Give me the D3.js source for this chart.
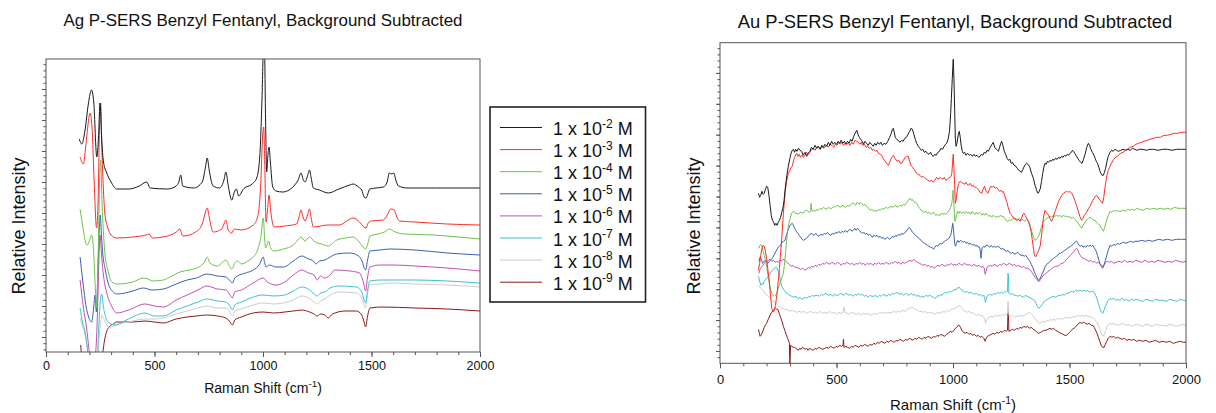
<!DOCTYPE html>
<html>
<head>
<meta charset="utf-8">
<script src="https://cdn.jsdelivr.net/npm/d3@7"></script>
<style>
  body { margin: 0; background: #fff; }
  text { font-family: Arial, "Liberation Sans", sans-serif; fill: #111; }
</style>
</head>
<body>
<svg id="chart" width="1216" height="413"></svg>
<script>
// concentration exponents shown in the legend (1 x 10^n M)
const exponents = ["-2", "-3", "-4", "-5", "-6", "-7", "-8", "-9"];
const seriesColors = ["#1a1a1a", "#ff2a2a", "#6cc24a", "#3a5fb0", "#c251b0", "#3fbfd2", "#cccccc", "#8b1a1a"];
const xTickLabels = [0, 500, 1000, 1500, 2000];

// Ag spectra: [Raman shift, relative intensity]
const agM2 = [[153,213],[165,208],[180,222],[195,248],[210,262],[220,250],[234,195],[242,215],[249,249],[256,215],[265,190],[280,179],[300,170],[326,163],[380,163],[430,166],[464,170],[480,164],[560,163],[600,166],[612,170],[621,177],[630,166],[680,164],[720,170],[735,185],[743,194],[752,182],[770,166],[800,164],[820,172],[829,180],[840,166],[856,152],[868,160],[877,163],[888,156],[910,163],[950,168],[971,174],[985,195],[995,250],[1002,300],[1007,300],[1012,230],[1017,180],[1022,195],[1028,205],[1034,190],[1045,165],[1060,161],[1091,160],[1120,162],[1150,168],[1162,172],[1175,179],[1186,172],[1194,170],[1205,176],[1214,182],[1222,174],[1232,164],[1260,162],[1301,159],[1350,163],[1400,167],[1416,168],[1440,165],[1455,162],[1466,155],[1475,154],[1483,158],[1492,163],[1520,164],[1555,165],[1572,170],[1582,179],[1594,178],[1603,179],[1612,172],[1625,166],[1665,164],[1800,164],[2000,164]];
const agM3 = [[157,195],[172,188],[185,210],[195,230],[203,239],[212,225],[222,170],[233,124],[240,150],[246,220],[252,249],[258,200],[265,160],[272,137],[285,124],[300,117],[326,114],[400,115],[460,117],[475,118],[490,114],[560,116],[600,120],[617,123],[630,116],[690,120],[720,128],[735,140],[743,144],[752,135],[770,120],[810,123],[820,128],[829,132],[840,122],[856,119],[868,123],[900,122],[955,127],[975,135],[990,170],[998,215],[1003,225],[1008,190],[1014,130],[1020,140],[1028,157],[1036,140],[1051,125],[1100,126],[1155,128],[1165,134],[1175,142],[1186,134],[1194,131],[1205,137],[1214,143],[1222,134],[1232,125],[1300,127],[1350,127],[1416,134],[1445,130],[1465,125],[1475,124],[1485,129],[1500,131],[1555,132],[1575,138],[1588,143],[1605,142],[1615,136],[1630,131],[1700,130],[1850,128],[2000,127]];
const agM4 = [[157,143],[170,125],[182,110],[190,107],[198,110],[210,117],[218,105],[226,70],[233,44],[240,90],[247,170],[252,192],[258,150],[265,118],[272,97],[285,82],[303,70],[329,68],[400,70],[449,74],[470,73],[490,71],[541,72],[580,76],[617,80],[660,82],[705,85],[730,90],[743,95],[755,89],[790,86],[815,90],[829,92],[845,86],[856,83],[870,89],[882,91],[900,88],[930,91],[955,95],[975,102],[990,115],[1001,134],[1008,112],[1012,104],[1020,108],[1026,111],[1035,104],[1050,101],[1094,103],[1140,107],[1160,112],[1175,115],[1194,111],[1213,115],[1240,110],[1270,108],[1301,106],[1340,112],[1380,114],[1416,115],[1440,111],[1458,106],[1473,103],[1485,110],[1493,116],[1530,118],[1560,120],[1585,123],[1600,121],[1650,118],[1785,117],[1900,115],[2000,113]];
const agM5 = [[157,95],[170,70],[185,45],[195,36],[210,30],[220,45],[226,57],[232,40],[240,90],[246,125],[250,137],[256,115],[263,95],[272,84],[285,70],[295,64],[329,58],[400,61],[449,64],[490,62],[541,63],[600,68],[650,72],[694,74],[740,78],[790,76],[829,75],[845,72],[859,69],[870,74],[882,76],[920,79],[955,82],[985,88],[1001,95],[1008,89],[1014,85],[1030,87],[1060,85],[1094,85],[1140,91],[1178,96],[1210,93],[1232,91],[1244,88],[1260,91],[1285,92],[1309,95],[1340,98],[1400,99],[1440,96],[1458,90],[1466,84],[1473,82],[1482,92],[1493,101],[1540,102],[1585,103],[1700,102],[1850,99],[2000,97]];
const agM6 = [[157,72],[172,45],[187,24],[197,5],[205,-10],[222,-10],[232,10],[240,60],[245,100],[249,117],[255,100],[263,80],[280,59],[300,47],[326,39],[380,42],[456,48],[500,46],[541,45],[600,52],[650,57],[700,62],[740,66],[790,63],[829,62],[845,58],[859,54],[870,60],[900,62],[955,69],[1001,74],[1020,70],[1060,67],[1100,70],[1140,77],[1178,82],[1210,79],[1235,77],[1250,72],[1265,76],[1285,74],[1309,77],[1330,82],[1400,81],[1445,79],[1462,70],[1473,61],[1482,75],[1493,85],[1540,87],[1600,87],[1700,86],[1850,84],[2000,81]];
const agM7 = [[157,44],[168,30],[180,20],[190,5],[198,-10],[235,-10],[242,20],[250,50],[257,58],[265,45],[280,32],[300,28],[318,27],[380,33],[456,39],[500,36],[541,36],[600,42],[650,46],[700,50],[740,53],[790,51],[829,50],[845,47],[859,42],[870,47],[900,50],[955,55],[1000,57],[1050,56],[1100,57],[1140,61],[1178,65],[1215,62],[1235,58],[1250,56],[1265,59],[1285,60],[1309,64],[1350,66],[1430,65],[1455,60],[1466,52],[1473,49],[1482,62],[1493,71],[1540,72],[1600,72],[1700,72],[1850,71],[2000,69]];
const agM8 = [[157,34],[168,26],[178,19],[190,5],[198,-10],[238,-10],[245,15],[252,30],[257,37],[265,34],[280,27],[295,24],[320,27],[380,30],[456,33],[500,33],[541,34],[600,38],[650,41],[700,44],[740,46],[790,44],[829,44],[845,41],[859,36],[870,41],[900,43],[955,47],[1000,49],[1050,48],[1094,49],[1140,52],[1178,56],[1210,54],[1235,50],[1250,48],[1265,51],[1285,53],[1309,57],[1350,60],[1430,59],[1455,54],[1466,47],[1473,44],[1482,58],[1493,67],[1540,68],[1600,69],[1700,68],[1850,67],[2000,65]];
const agM9 = [[160,7],[168,-10],[255,-10],[262,0],[270,12],[287,24],[310,28],[326,30],[400,30],[456,31],[500,30],[541,29],[600,33],[650,35],[694,36],[740,37],[790,36],[829,34],[845,31],[859,27],[870,32],[900,35],[955,39],[1000,40],[1050,39],[1100,40],[1140,41],[1178,42],[1215,40],[1235,38],[1250,36],[1265,38],[1285,37],[1301,34],[1320,38],[1380,41],[1430,41],[1455,37],[1466,30],[1473,25],[1482,36],[1493,44],[1550,45],[1700,44],[1850,43],[2000,41]];

// Au spectra: [Raman shift, relative intensity]
const auM2 = [[165,170],[170,166],[175,168],[180,172],[185,169],[190,170],[195,174],[200,177],[205,176],[210,168],[215,158],[220,148],[225,143],[230,141],[235,138],[240,140],[245,138],[250,141],[255,143],[260,146],[265,151],[270,155],[275,163],[280,175],[287,188],[293,197],[300,205],[305,210],[310,213],[315,214],[320,211],[325,214],[330,212],[337,215],[343,213],[350,212],[357,208],[365,211],[372,207],[379,210],[386,212],[392,216],[400,214],[408,218],[415,215],[422,217],[430,214],[437,218],[444,216],[450,219],[458,217],[465,221],[472,218],[479,222],[486,219],[493,221],[500,219],[507,222],[514,220],[520,223],[527,220],[534,222],[540,219],[547,222],[554,220],[560,224],[567,222],[574,227],[580,230],[587,233],[592,229],[598,226],[604,224],[610,222],[616,219],[622,222],[629,220],[636,218],[643,221],[650,219],[657,217],[664,220],[670,218],[677,221],[684,219],[690,221],[697,218],[704,220],[712,219],[720,222],[728,226],[735,230],[740,234],[744,235],[748,231],[752,226],[758,224],[765,223],[772,221],[780,223],[786,222],[793,225],[800,226],[807,229],[814,232],[820,235],[826,234],[832,229],[838,224],[844,220],[851,217],[858,215],[864,213],[870,214],[877,211],[884,212],[890,210],[897,209],[904,211],[910,208],[916,207],[922,209],[928,208],[935,211],[942,212],[948,215],[955,214],[962,217],[968,219],[973,220],[979,224],[985,232],[990,250],[993,265],[997,285],[1001,304],[1004,285],[1007,255],[1010,225],[1013,217],[1017,220],[1022,228],[1027,232],[1031,226],[1035,218],[1040,212],[1044,210],[1050,211],[1056,208],[1062,210],[1070,208],[1076,209],[1083,207],[1090,209],[1096,207],[1103,208],[1110,206],[1116,207],[1122,209],[1128,208],[1134,211],[1140,210],[1146,213],[1152,212],[1160,216],[1167,219],[1173,221],[1179,216],[1186,214],[1191,213],[1195,212],[1200,216],[1205,220],[1209,222],[1214,218],[1220,212],[1226,209],[1232,205],[1238,203],[1244,204],[1250,200],[1255,201],[1262,198],[1270,197],[1276,195],[1282,193],[1288,192],[1294,191],[1300,194],[1306,197],[1311,199],[1316,200],[1322,199],[1330,196],[1337,190],[1345,185],[1352,178],[1358,174],[1362,171],[1366,170],[1370,172],[1375,175],[1380,182],[1385,190],[1390,196],[1395,200],[1400,199],[1405,202],[1410,201],[1416,203],[1422,202],[1428,204],[1434,203],[1440,205],[1447,204],[1453,206],[1460,205],[1466,207],[1472,206],[1478,208],[1484,207],[1490,209],[1496,208],[1502,210],[1508,211],[1513,213],[1517,212],[1522,210],[1528,208],[1535,205],[1541,203],[1548,201],[1554,200],[1560,204],[1568,210],[1574,216],[1581,220],[1586,218],[1592,214],[1598,211],[1605,208],[1610,205],[1615,202],[1620,200],[1626,196],[1631,192],[1635,190],[1640,188],[1645,188],[1650,191],[1655,195],[1660,201],[1665,206],[1668,208],[1674,211],[1681,213],[1688,212],[1695,214],[1702,213],[1710,212],[1720,213],[1730,214],[1740,213],[1750,214],[1760,213],[1770,215],[1780,214],[1790,213],[1800,214],[1815,214],[1830,213],[1845,214],[1860,214],[1880,213],[1900,214],[1920,214],[1940,213],[1960,214],[1980,214],[2000,214]];
const auM3 = [[165,93],[170,100],[175,108],[180,115],[185,118],[190,117],[195,112],[200,105],[205,95],[210,85],[216,70],[222,55],[227,52],[232,52],[238,58],[245,70],[250,82],[255,95],[260,110],[265,125],[272,150],[280,172],[286,182],[293,190],[300,193],[305,196],[310,197],[316,203],[322,207],[329,210],[335,207],[340,209],[345,206],[352,208],[358,206],[365,208],[372,211],[380,209],[386,212],[392,213],[400,215],[408,213],[415,216],[422,217],[430,214],[437,217],[444,215],[450,216],[458,218],[466,216],[473,219],[480,218],[488,216],[495,219],[502,218],[510,221],[516,219],[523,221],[530,218],[537,220],[544,219],[550,220],[558,218],[565,221],[572,219],[580,223],[587,222],[594,221],[600,219],[606,221],[612,218],[620,219],[627,216],[634,217],[640,215],[647,216],[654,213],[660,214],[667,212],[674,213],[680,210],[687,209],[694,208],[700,205],[706,203],[712,201],[718,199],[723,198],[728,201],[735,205],[740,207],[745,208],[750,205],[755,204],[760,202],[767,203],[774,200],[780,200],[787,203],[795,206],[801,207],[808,207],[814,202],[820,198],[826,196],[832,194],[837,193],[843,190],[850,189],[858,188],[865,186],[872,187],[880,185],[887,184],[893,183],[900,182],[908,183],[916,181],[922,183],[930,186],[937,184],[944,186],[950,185],[957,184],[963,186],[969,183],[975,184],[981,185],[987,186],[992,187],[995,190],[998,200],[1001,209],[1004,195],[1007,178],[1010,160],[1014,164],[1018,172],[1022,178],[1025,180],[1030,182],[1037,181],[1043,180],[1050,179],[1055,181],[1060,179],[1067,178],[1074,180],[1081,177],[1088,178],[1094,176],[1100,176],[1105,175],[1110,173],[1116,171],[1123,170],[1129,174],[1135,177],[1140,173],[1145,171],[1150,170],[1156,174],[1162,177],[1168,176],[1175,177],[1181,175],[1187,176],[1194,174],[1200,172],[1207,173],[1213,171],[1216,172],[1222,168],[1230,162],[1237,156],[1245,150],[1252,148],[1258,146],[1265,145],[1272,143],[1280,144],[1288,142],[1294,145],[1300,149],[1305,150],[1310,148],[1316,145],[1323,142],[1329,138],[1335,132],[1340,124],[1345,115],[1349,109],[1352,107],[1357,107],[1362,110],[1368,113],[1375,118],[1380,128],[1385,140],[1390,148],[1395,153],[1400,151],[1405,150],[1410,148],[1416,145],[1423,142],[1429,145],[1435,150],[1440,153],[1447,158],[1453,162],[1460,165],[1467,168],[1474,170],[1481,171],[1488,172],[1494,171],[1500,172],[1505,171],[1510,170],[1516,167],[1523,163],[1530,158],[1537,153],[1544,147],[1552,143],[1558,145],[1564,148],[1570,150],[1576,152],[1582,155],[1588,157],[1594,160],[1600,163],[1605,165],[1610,167],[1617,168],[1622,166],[1627,164],[1632,163],[1637,161],[1642,160],[1647,166],[1652,175],[1657,183],[1661,188],[1665,192],[1672,196],[1680,200],[1690,204],[1698,206],[1706,207],[1713,209],[1720,210],[1730,211],[1740,213],[1750,214],[1760,216],[1774,217],[1785,219],[1796,220],[1808,221],[1820,222],[1832,223],[1845,224],[1860,225],[1875,226],[1890,226],[1905,228],[1920,228],[1935,229],[1950,230],[1965,230],[1980,231],[2000,231]];
const auM4 = [[167,115],[171,118],[175,119],[180,117],[185,112],[190,108],[195,103],[200,97],[206,88],[212,80],[217,74],[222,70],[228,68],[233,67],[239,68],[245,71],[250,75],[255,78],[260,82],[266,86],[272,90],[278,102],[283,115],[288,127],[293,137],[299,143],[305,148],[310,151],[315,152],[322,150],[330,150],[337,149],[343,151],[350,151],[357,150],[363,152],[370,153],[377,152],[385,151],[389,153],[391,160],[393,154],[395,152],[402,153],[410,152],[416,154],[422,153],[430,155],[437,154],[444,156],[450,155],[458,154],[465,156],[472,155],[480,155],[487,157],[494,156],[502,158],[510,157],[517,156],[524,158],[532,157],[540,156],[547,158],[555,157],[562,159],[568,160],[575,160],[582,158],[589,161],[596,159],[602,161],[608,160],[615,158],[622,159],[630,157],[637,155],[644,153],[651,154],[660,152],[667,153],[674,152],[681,154],[688,153],[695,155],[700,154],[707,155],[714,156],[720,155],[727,156],[734,157],[740,156],[747,157],[754,158],[760,156],[767,157],[774,158],[780,157],[787,159],[793,158],[800,160],[805,162],[810,164],[815,165],[820,163],[825,164],[830,162],[837,161],[844,160],[850,157],[857,155],[863,153],[870,152],[877,151],[884,152],[890,150],[896,151],[902,150],[908,149],[914,151],[920,150],[926,148],[932,149],[938,148],[944,148],[950,150],[957,149],[963,150],[970,149],[977,151],[983,153],[990,156],[995,160],[998,166],[1000,173],[1002,166],[1004,160],[1006,150],[1008,142],[1011,144],[1015,148],[1020,152],[1025,150],[1030,152],[1036,150],[1042,151],[1050,150],[1056,152],[1063,150],[1070,151],[1076,149],[1082,152],[1088,150],[1095,149],[1100,151],[1106,149],[1112,151],[1118,150],[1124,148],[1130,150],[1136,148],[1142,150],[1148,148],[1154,147],[1160,148],[1166,146],[1172,148],[1178,147],[1184,146],[1190,147],[1196,146],[1202,148],[1208,147],[1216,147],[1222,145],[1228,143],[1235,142],[1242,143],[1250,143],[1257,145],[1264,144],[1270,145],[1277,143],[1284,145],[1291,143],[1300,144],[1307,142],[1315,144],[1323,143],[1328,140],[1333,136],[1338,132],[1343,128],[1348,125],[1352,123],[1357,124],[1362,125],[1367,127],[1372,130],[1378,135],[1385,140],[1390,142],[1395,143],[1402,145],[1410,146],[1417,147],[1424,146],[1431,148],[1438,147],[1445,148],[1452,147],[1459,148],[1466,146],[1473,148],[1480,147],[1488,147],[1494,146],[1500,147],[1507,145],[1514,146],[1520,145],[1527,143],[1534,141],[1540,139],[1546,137],[1552,135],[1558,138],[1564,140],[1570,142],[1576,144],[1582,145],[1588,146],[1594,145],[1600,144],[1605,143],[1610,143],[1615,141],[1620,140],[1625,139],[1630,138],[1635,136],[1640,134],[1645,132],[1650,135],[1656,140],[1662,145],[1668,149],[1674,152],[1681,151],[1688,153],[1695,152],[1702,153],[1710,152],[1720,152],[1730,153],[1740,152],[1750,154],[1760,153],[1770,154],[1780,153],[1790,155],[1800,154],[1815,153],[1830,155],[1845,154],[1860,155],[1875,154],[1890,155],[1905,154],[1920,155],[1935,154],[1950,156],[1965,155],[1980,155],[2000,155]];
const auM5 = [[167,102],[172,106],[177,104],[183,100],[189,102],[195,103],[200,101],[205,100],[212,102],[220,104],[227,106],[234,109],[240,112],[247,115],[254,117],[260,118],[266,121],[273,122],[279,123],[285,128],[290,132],[295,135],[300,138],[305,139],[310,140],[315,138],[320,135],[325,133],[330,131],[335,130],[340,128],[346,126],[352,124],[358,123],[365,124],[372,125],[378,127],[384,128],[390,130],[397,129],[404,128],[411,130],[418,128],[425,127],[432,129],[440,128],[447,130],[454,129],[461,131],[468,129],[475,128],[482,130],[490,129],[496,131],[503,130],[510,132],[517,130],[524,132],[531,131],[538,133],[545,131],[552,133],[560,134],[566,132],[572,133],[578,135],[584,133],[590,135],[594,134],[600,132],[606,131],[612,130],[618,131],[624,129],[630,130],[636,128],[642,129],[648,128],[654,126],[660,128],[667,127],[674,128],[680,126],[687,127],[694,125],[700,126],[707,124],[714,125],[720,126],[727,124],[734,125],[740,127],[747,126],[754,128],[760,127],[767,129],[774,128],[780,130],[787,129],[794,131],[800,132],[806,134],[812,136],[816,135],[821,133],[826,131],[832,130],[838,128],[844,127],[850,126],[857,124],[864,123],[870,121],[877,120],[884,119],[890,118],[897,117],[904,116],[910,116],[916,114],[922,116],[928,118],[934,117],[940,119],[946,120],[952,119],[958,121],[964,122],[970,123],[977,124],[983,125],[990,128],[995,134],[999,140],[1002,134],[1005,126],[1008,119],[1011,117],[1015,120],[1020,123],[1026,121],[1032,123],[1038,122],[1044,121],[1050,122],[1056,120],[1062,121],[1068,119],[1074,120],[1080,119],[1086,118],[1092,119],[1098,117],[1104,118],[1110,116],[1115,116],[1118,110],[1120,105],[1122,110],[1125,115],[1131,117],[1137,116],[1143,118],[1150,118],[1157,116],[1164,118],[1171,116],[1178,117],[1185,116],[1192,117],[1200,116],[1207,114],[1214,115],[1221,113],[1228,112],[1235,113],[1242,111],[1250,110],[1257,111],[1264,109],[1271,110],[1278,111],[1285,109],[1292,108],[1300,108],[1306,107],[1312,108],[1318,106],[1324,104],[1330,102],[1336,99],[1342,96],[1348,92],[1354,89],[1360,86],[1366,83],[1372,84],[1378,87],[1384,90],[1390,93],[1396,97],[1402,99],[1408,100],[1414,101],[1420,103],[1426,104],[1432,105],[1438,106],[1444,107],[1450,108],[1456,110],[1462,110],[1468,111],[1474,112],[1480,113],[1486,114],[1492,115],[1498,116],[1504,117],[1510,118],[1516,119],[1522,121],[1527,122],[1531,122],[1536,120],[1541,118],[1546,117],[1552,118],[1558,116],[1564,117],[1570,116],[1576,118],[1582,117],[1588,118],[1594,117],[1600,118],[1605,116],[1610,114],[1615,112],[1620,108],[1625,104],[1630,100],[1636,97],[1642,95],[1648,98],[1654,103],[1660,108],[1666,113],[1674,118],[1682,117],[1690,119],[1698,118],[1706,120],[1714,119],[1722,120],[1732,121],[1742,120],[1752,121],[1762,122],[1772,121],[1782,122],[1795,122],[1810,123],[1825,122],[1840,123],[1855,122],[1870,123],[1885,124],[1900,123],[1920,124],[1940,123],[1960,124],[1980,124],[2000,124]];
const auM6 = [[167,90],[172,94],[178,96],[184,98],[190,100],[196,101],[202,102],[208,103],[215,104],[222,102],[229,103],[236,101],[243,102],[250,101],[257,103],[264,102],[271,104],[279,103],[286,101],[293,100],[300,98],[307,97],[314,98],[321,96],[330,96],[338,95],[346,94],[355,95],[365,93],[372,94],[379,96],[386,95],[393,97],[400,96],[408,98],[416,97],[424,99],[432,98],[440,100],[448,99],[456,101],[464,100],[472,99],[480,101],[488,100],[496,99],[504,101],[512,100],[520,98],[528,100],[536,99],[544,101],[552,100],[560,99],[568,100],[576,98],[584,100],[592,99],[600,101],[608,99],[616,100],[624,98],[632,100],[640,99],[648,100],[656,98],[664,100],[672,99],[680,101],[688,99],[696,100],[704,99],[712,101],[720,100],[728,99],[736,101],[744,100],[752,102],[760,100],[768,101],[776,99],[784,101],[792,100],[800,101],[808,102],[816,103],[824,102],[832,104],[840,102],[848,101],[856,100],[864,99],[872,98],[880,99],[888,97],[896,98],[904,96],[912,97],[920,95],[928,97],[936,98],[944,97],[952,99],[960,98],[968,97],[976,99],[984,98],[992,100],[1000,98],[1008,99],[1016,98],[1024,100],[1032,99],[1040,98],[1048,100],[1056,99],[1064,98],[1072,99],[1080,97],[1088,99],[1096,98],[1104,97],[1112,98],[1120,96],[1128,97],[1134,95],[1138,89],[1142,92],[1146,96],[1152,97],[1160,98],[1168,97],[1176,99],[1184,98],[1192,97],[1200,99],[1208,98],[1216,100],[1224,99],[1232,98],[1240,100],[1248,99],[1256,98],[1264,99],[1272,97],[1280,98],[1288,97],[1296,96],[1304,97],[1312,95],[1320,95],[1328,94],[1336,92],[1344,89],[1352,86],[1360,84],[1366,82],[1371,82],[1376,84],[1382,86],[1388,88],[1394,89],[1400,90],[1408,92],[1416,93],[1424,95],[1432,96],[1440,97],[1448,97],[1456,98],[1464,100],[1472,100],[1480,102],[1488,104],[1496,106],[1504,108],[1512,110],[1520,112],[1526,114],[1531,115],[1536,113],[1541,110],[1546,108],[1552,106],[1560,105],[1568,104],[1576,103],[1584,102],[1592,103],[1600,101],[1608,102],[1616,100],[1624,101],[1632,99],[1638,98],[1644,97],[1650,99],[1656,101],[1662,102],[1670,101],[1680,102],[1690,100],[1700,101],[1712,102],[1724,101],[1736,103],[1748,101],[1760,102],[1772,101],[1784,103],[1796,102],[1810,101],[1824,103],[1838,101],[1852,102],[1866,101],[1880,103],[1894,102],[1910,101],[1925,102],[1940,101],[1955,103],[1970,102],[1985,101],[2000,102]];
const auM7 = [[165,87],[170,82],[175,78],[180,80],[185,79],[190,82],[196,84],[202,85],[208,87],[214,89],[220,92],[226,93],[232,95],[238,96],[245,95],[250,92],[255,88],[260,82],[265,77],[270,75],[275,73],[280,72],[286,70],[293,69],[300,68],[307,67],[315,66],[322,67],[330,66],[337,65],[344,66],[351,64],[358,65],[365,66],[372,65],[380,67],[388,66],[396,68],[404,67],[412,68],[420,68],[428,67],[436,69],[444,68],[452,70],[460,69],[468,68],[476,69],[484,67],[492,69],[500,68],[508,68],[516,70],[524,69],[532,68],[540,70],[548,69],[556,68],[564,69],[572,67],[580,69],[588,68],[596,70],[604,68],[612,69],[620,67],[628,68],[636,66],[644,68],[652,67],[660,67],[668,68],[676,66],[684,68],[692,67],[700,69],[708,68],[716,67],[724,69],[732,68],[740,70],[748,69],[756,71],[764,70],[772,69],[780,70],[788,68],[796,70],[804,69],[812,68],[820,70],[828,68],[836,69],[844,67],[852,68],[860,66],[868,67],[876,66],[884,68],[892,67],[900,68],[908,67],[916,66],[924,65],[930,66],[936,68],[942,67],[948,69],[954,68],[960,70],[968,71],[976,70],[984,72],[992,71],[1000,73],[1008,74],[1016,74],[1022,76],[1027,76],[1032,74],[1038,73],[1045,72],[1052,71],[1060,72],[1068,70],[1076,71],[1084,70],[1092,69],[1100,70],[1108,68],[1116,69],[1124,67],[1132,68],[1136,66],[1139,61],[1142,64],[1146,67],[1152,68],[1160,69],[1168,68],[1176,70],[1184,69],[1192,71],[1200,70],[1208,71],[1216,70],[1224,72],[1230,71],[1234,72],[1236,90],[1238,88],[1240,70],[1246,69],[1254,70],[1262,68],[1270,68],[1278,67],[1286,68],[1294,67],[1302,66],[1310,68],[1318,67],[1326,66],[1334,65],[1342,64],[1350,63],[1356,60],[1362,57],[1368,55],[1374,56],[1380,58],[1386,60],[1392,62],[1398,63],[1406,64],[1414,65],[1422,66],[1430,67],[1438,66],[1446,67],[1454,68],[1462,68],[1470,69],[1478,68],[1486,70],[1494,70],[1502,71],[1510,72],[1518,71],[1526,73],[1531,73],[1538,72],[1546,73],[1554,72],[1562,73],[1570,72],[1578,73],[1586,71],[1594,72],[1600,72],[1606,71],[1612,68],[1618,65],[1624,60],[1630,55],[1636,52],[1642,50],[1648,53],[1654,57],[1660,60],[1666,63],[1674,65],[1682,64],[1690,65],[1698,63],[1706,64],[1716,63],[1726,65],[1736,63],[1746,64],[1756,62],[1766,64],[1776,63],[1788,64],[1800,63],[1814,62],[1828,64],[1842,63],[1856,62],[1870,64],[1884,63],[1900,63],[1915,62],[1930,64],[1945,63],[1960,62],[1975,64],[1990,63],[2000,63]];
const auM8 = [[165,78],[172,76],[180,74],[188,72],[196,69],[204,68],[212,66],[220,64],[228,62],[236,61],[244,59],[252,57],[260,56],[268,55],[276,54],[284,54],[292,53],[300,52],[310,53],[320,52],[330,51],[340,52],[350,51],[360,52],[370,50],[380,51],[390,52],[400,50],[410,51],[420,50],[430,52],[440,50],[450,51],[460,50],[470,52],[480,50],[490,51],[500,49],[510,51],[520,50],[528,51],[532,56],[536,51],[545,50],[555,49],[565,51],[575,50],[585,49],[595,50],[605,48],[615,50],[625,49],[635,50],[645,48],[655,49],[665,50],[675,49],[685,51],[695,50],[705,51],[715,50],[725,51],[735,50],[745,52],[755,51],[765,52],[775,51],[785,53],[795,52],[805,54],[815,55],[825,56],[832,55],[840,54],[848,53],[856,52],[864,52],[872,51],[880,52],[888,50],[896,51],[904,50],[912,51],[920,49],[928,50],[936,51],[944,50],[952,51],[960,52],[968,51],[976,53],[984,52],[992,54],[1000,54],[1008,55],[1016,56],[1022,57],[1027,58],[1032,57],[1038,55],[1045,53],[1053,52],[1061,51],[1069,52],[1077,50],[1085,51],[1093,49],[1101,48],[1109,49],[1117,47],[1125,48],[1132,46],[1136,44],[1140,40],[1144,43],[1148,45],[1156,46],[1164,47],[1172,46],[1180,48],[1188,47],[1196,48],[1204,47],[1212,49],[1220,48],[1228,49],[1234,50],[1236,62],[1238,58],[1240,48],[1248,47],[1256,48],[1264,46],[1272,47],[1280,47],[1288,48],[1296,47],[1304,48],[1312,49],[1320,50],[1328,51],[1335,50],[1342,48],[1350,45],[1358,43],[1364,41],[1371,40],[1378,41],[1386,42],[1394,41],[1402,43],[1410,42],[1418,44],[1426,43],[1434,44],[1442,43],[1450,45],[1458,44],[1466,45],[1474,44],[1482,46],[1490,45],[1498,46],[1506,45],[1514,47],[1522,46],[1530,47],[1538,48],[1546,47],[1554,48],[1562,47],[1570,48],[1578,47],[1586,47],[1594,46],[1602,45],[1608,44],[1614,42],[1620,40],[1626,37],[1632,33],[1638,29],[1645,27],[1650,29],[1656,33],[1662,37],[1668,39],[1674,40],[1682,39],[1690,40],[1698,38],[1706,39],[1716,38],[1726,40],[1736,39],[1746,38],[1756,39],[1766,37],[1776,38],[1788,39],[1800,38],[1814,37],[1828,39],[1842,38],[1856,37],[1870,39],[1884,38],[1900,38],[1915,37],[1930,39],[1945,38],[1960,37],[1975,38],[1990,39],[2000,38]];
const auM9 = [[165,34],[169,30],[172,27],[176,28],[180,30],[185,33],[190,36],[195,38],[200,40],[207,44],[215,48],[222,51],[228,53],[232,54],[238,55],[243,54],[248,54],[254,50],[260,46],[266,42],[272,37],[278,33],[284,29],[290,25],[295,22],[298,20],[299,5],[300,-5],[301,5],[303,18],[308,17],[314,16],[320,16],[326,15],[331,14],[336,13],[342,15],[348,14],[354,16],[360,15],[366,14],[372,15],[378,13],[384,15],[392,14],[400,13],[408,15],[416,14],[424,16],[432,15],[440,14],[450,15],[458,16],[466,15],[474,17],[482,16],[490,15],[498,17],[506,16],[514,18],[522,17],[528,18],[530,24],[532,16],[540,17],[548,16],[556,15],[564,17],[572,16],[580,18],[588,17],[596,16],[604,18],[612,17],[620,19],[628,18],[636,17],[644,19],[652,18],[660,20],[668,19],[676,21],[684,20],[692,22],[700,21],[708,20],[716,22],[724,21],[732,23],[740,22],[748,21],[756,23],[764,22],[772,24],[780,23],[788,22],[796,24],[804,23],[812,25],[820,24],[828,23],[836,25],[844,24],[852,26],[860,25],[868,24],[876,26],[884,25],[892,27],[900,26],[908,25],[916,27],[924,26],[932,28],[940,27],[948,29],[956,28],[964,27],[972,29],[980,30],[988,32],[996,31],[1004,33],[1010,35],[1016,36],[1022,38],[1027,38],[1032,36],[1038,33],[1045,31],[1052,30],[1060,31],[1068,29],[1076,30],[1084,28],[1092,29],[1100,27],[1108,28],[1116,26],[1124,27],[1132,25],[1138,22],[1142,25],[1148,27],[1156,28],[1164,29],[1172,30],[1180,29],[1188,31],[1196,30],[1204,32],[1212,31],[1220,33],[1228,32],[1234,33],[1236,52],[1238,48],[1240,32],[1248,33],[1256,34],[1264,33],[1272,35],[1280,34],[1288,36],[1296,35],[1304,37],[1312,36],[1320,37],[1328,35],[1336,36],[1344,34],[1352,33],[1360,31],[1368,30],[1376,31],[1384,32],[1392,33],[1400,33],[1408,34],[1416,35],[1424,34],[1432,35],[1440,33],[1448,32],[1456,31],[1464,30],[1472,29],[1480,28],[1488,28],[1496,30],[1504,32],[1512,34],[1520,35],[1528,37],[1536,39],[1545,41],[1552,40],[1560,41],[1568,40],[1576,39],[1584,40],[1592,38],[1600,38],[1606,36],[1612,33],[1618,30],[1624,26],[1630,22],[1636,18],[1642,16],[1648,16],[1654,19],[1660,22],[1666,25],[1674,27],[1682,26],[1690,27],[1698,25],[1706,26],[1716,25],[1726,24],[1736,25],[1746,23],[1756,24],[1766,23],[1776,24],[1788,22],[1800,23],[1814,22],[1828,23],[1842,21],[1856,22],[1870,23],[1884,21],[1900,22],[1915,21],[1930,22],[1945,20],[1960,21],[1975,22],[1990,21],[2000,21]];

const agSeries = [agM2, agM3, agM4, agM5, agM6, agM7, agM8, agM9];
const auSeries = [auM2, auM3, auM4, auM5, auM6, auM7, auM8, auM9];

const svg = d3.select("#chart");

function drawPanel(p) {
  const g = svg.append("g").attr("transform", `translate(${p.left}, ${p.top})`);

  const x = d3.scaleLinear().domain([0, 2000]).range([0, p.width]);
  const y = d3.scaleLinear().domain([0, p.height]).range([p.height, 0]);

  // X axis: minor ticks every 100, labelled major ticks every 500
  g.append("g")
    .attr("transform", `translate(0, ${p.height})`)
    .call(d3.axisBottom(x).tickValues(d3.range(0, 2001, 100)).tickFormat("").tickSize(3).tickSizeOuter(0))
    .call(a => a.select(".domain").remove())
    .call(a => a.selectAll("line").attr("stroke", "#555"));
  g.append("g")
    .attr("transform", `translate(0, ${p.height})`)
    .call(d3.axisBottom(x).tickValues(xTickLabels).tickFormat(d3.format("d")).tickSize(5).tickPadding(p.tickPad).tickSizeOuter(0))
    .call(a => a.select(".domain").remove())
    .call(a => a.selectAll("line").attr("stroke", "#555"))
    .call(a => a.selectAll("text")
      .attr("font-size", p.tickFont)
      .attr("font-family", "Arial, 'Liberation Sans', sans-serif")
      .attr("fill", "#111"));

  // Y axis: unlabelled ticks
  const yMinor = d3.range(p.yStart % (p.yStep / 5), p.height, p.yStep / 5);
  g.append("g")
    .call(d3.axisLeft(y).tickValues(yMinor).tickFormat("").tickSize(2.5).tickSizeOuter(0))
    .call(a => a.select(".domain").remove())
    .call(a => a.selectAll("line").attr("stroke", "#555"));
  g.append("g")
    .call(d3.axisLeft(y).tickValues(d3.range(p.yStart, p.height, p.yStep)).tickFormat("").tickSize(4).tickSizeOuter(0))
    .call(a => a.select(".domain").remove())
    .call(a => a.selectAll("line").attr("stroke", "#555"));

  g.append("clipPath").attr("id", p.id + "-clip")
    .append("rect").attr("width", p.width).attr("height", p.height);

  const line = d3.line()
    .x(d => x(d[0]))
    .y(d => y(d[1]))
    .curve(p.curve);

  const plot = g.append("g").attr("clip-path", `url(#${p.id}-clip)`);
  for (let i = p.series.length - 1; i >= 0; i--) {
    plot.append("path")
      .datum(p.series[i])
      .attr("fill", "none")
      .attr("stroke", seriesColors[i])
      .attr("stroke-width", 1)
      .attr("stroke-linejoin", "round")
      .attr("d", line);
  }

  // frame
  g.append("rect")
    .attr("width", p.width)
    .attr("height", p.height)
    .attr("fill", "none")
    .attr("stroke", "#555")
    .attr("stroke-width", 1);

  // title
  svg.append("text")
    .attr("x", p.left + p.width / 2 + p.titleShift)
    .attr("y", p.titleY)
    .attr("text-anchor", "middle")
    .attr("font-size", p.titleFont)
    .text(p.title);

  // x label
  const xl = svg.append("text")
    .attr("x", p.left + p.width / 2)
    .attr("y", p.xLabelY)
    .attr("text-anchor", "middle")
    .attr("font-size", p.xLabelFont)
    .text("Raman Shift (cm");
  xl.append("tspan").attr("dy", -p.xLabelFont * 0.4).attr("font-size", p.xLabelFont * 0.7).text("-1");
  xl.append("tspan").attr("dy", p.xLabelFont * 0.4).text(")");

  // y label
  svg.append("text")
    .attr("transform", `translate(${p.yLabelX}, ${p.yLabelY}) rotate(-90)`)
    .attr("text-anchor", "middle")
    .attr("font-size", p.yLabelFont)
    .text("Relative Intensity");
}

drawPanel({
  id: "ag", left: 46, top: 59, width: 434, height: 293,
  yStart: 15, yStep: 31,
  series: agSeries, curve: d3.curveMonotoneX,
  title: "Ag P-SERS Benzyl Fentanyl, Background Subtracted",
  titleFont: 16.9, titleY: 26, titleShift: 0,
  tickFont: 12.5, tickPad: 4, xLabelY: 393, xLabelFont: 14,
  yLabelX: 25, yLabelY: 226, yLabelFont: 18
});

drawPanel({
  id: "au", left: 720, top: 42.7, width: 466, height: 320.6,
  yStart: 12.3, yStep: 30.9,
  series: auSeries, curve: d3.curveLinear,
  title: "Au P-SERS Benzyl Fentanyl, Background Subtracted",
  titleFont: 18.4, titleY: 27.5, titleShift: 2,
  tickFont: 13, tickPad: 6, xLabelY: 410, xLabelFont: 15,
  yLabelX: 700, yLabelY: 226, yLabelFont: 18
});

// legend for the Ag panel
const legend = svg.append("g");
legend.append("rect")
  .attr("x", 490).attr("y", 107)
  .attr("width", 155.5).attr("height", 195)
  .attr("fill", "#fff")
  .attr("stroke", "#222")
  .attr("stroke-width", 1.6);

exponents.forEach((e, i) => {
  const ly = 127.5 + i * 22.1;
  legend.append("line")
    .attr("x1", 500).attr("x2", 542)
    .attr("y1", ly).attr("y2", ly)
    .attr("stroke", seriesColors[i])
    .attr("stroke-width", 1);
  const t = legend.append("text")
    .attr("x", 553).attr("y", ly + 7.5)
    .attr("font-size", 18)
    .text("1 x 10");
  t.append("tspan").attr("dy", -7.5).attr("font-size", 12).text(e);
  t.append("tspan").attr("dy", 7.5).text(" M");
});
</script>
</body>
</html>
